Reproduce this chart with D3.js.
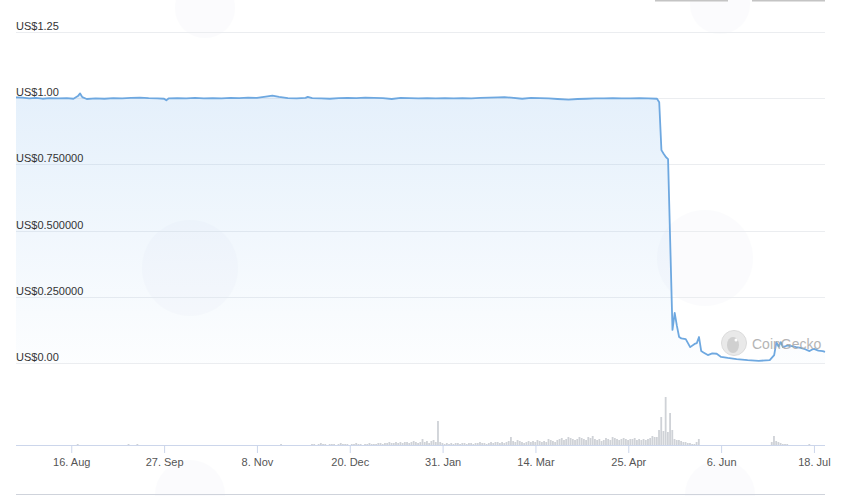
<!DOCTYPE html>
<html>
<head>
<meta charset="utf-8">
<script src="https://cdn.jsdelivr.net/npm/d3@7/dist/d3.min.js"></script>
<style>
html,body{margin:0;padding:0;background:#fff;}
svg{display:block;font-family:"Liberation Sans",Arial,sans-serif;}
</style>
</head>
<body>
<svg id="chart" width="849" height="496"></svg>
<script>
// ---------------- DATA ----------------
const priceDates = [
"2021-07-22","2021-07-25","2021-07-28","2021-07-31","2021-08-03","2021-08-06","2021-08-10","2021-08-14","2021-08-17","2021-08-19",
"2021-08-20","2021-08-21","2021-08-23","2021-08-27","2021-08-31","2021-09-04","2021-09-08","2021-09-12","2021-09-16","2021-09-20",
"2021-09-24","2021-09-27","2021-09-28","2021-09-29","2021-10-03","2021-10-07","2021-10-11","2021-10-15","2021-10-19","2021-10-23",
"2021-10-27","2021-10-31","2021-11-04","2021-11-08","2021-11-12","2021-11-15","2021-11-18","2021-11-22","2021-11-26","2021-11-30",
"2021-12-01","2021-12-03","2021-12-07","2021-12-11","2021-12-15","2021-12-19","2021-12-23","2021-12-27","2021-12-31","2022-01-04",
"2022-01-08","2022-01-12","2022-01-16","2022-01-20","2022-01-24","2022-01-28","2022-02-01","2022-02-05","2022-02-09","2022-02-13",
"2022-02-17","2022-02-21","2022-02-25","2022-02-28","2022-03-03","2022-03-08","2022-03-12","2022-03-16","2022-03-20","2022-03-24",
"2022-03-29","2022-04-02","2022-04-06","2022-04-10","2022-04-14","2022-04-18","2022-04-22","2022-04-26","2022-04-30","2022-05-04",
"2022-05-08","2022-05-09","2022-05-10","2022-05-11","2022-05-12","2022-05-13","2022-05-15","2022-05-16","2022-05-17","2022-05-18",
"2022-05-19","2022-05-21","2022-05-23","2022-05-25","2022-05-26","2022-05-27","2022-05-28","2022-05-29","2022-05-31","2022-06-02",
"2022-06-04","2022-06-06","2022-06-09","2022-06-13","2022-06-18","2022-06-23","2022-06-28","2022-06-30","2022-07-01","2022-07-02",
"2022-07-03","2022-07-04","2022-07-06","2022-07-08","2022-07-10","2022-07-12","2022-07-14","2022-07-16","2022-07-17","2022-07-18",
"2022-07-20","2022-07-22","2022-07-23"
];
const priceValues = [
1.003,1.002,0.999,1.001,0.998,1.000,0.999,1.000,0.998,1.008,
1.018,1.004,0.997,0.999,0.998,1.000,0.999,1.001,1.002,1.000,
0.999,0.998,0.992,0.999,1.000,0.999,1.001,0.999,1.000,0.999,
1.001,1.000,1.002,1.001,1.006,1.010,1.005,1.000,0.999,1.001,
1.005,1.000,0.999,0.998,1.000,1.001,1.000,1.002,1.001,1.000,
0.997,1.001,1.000,0.999,1.000,0.999,1.000,0.999,1.000,0.999,
1.001,1.002,1.003,1.004,1.002,0.998,1.001,1.000,0.999,0.997,
0.995,0.997,0.998,0.999,0.999,1.000,0.999,0.999,1.000,0.999,
0.998,0.985,0.804,0.790,0.778,0.770,0.125,0.189,0.140,0.098,
0.093,0.090,0.060,0.072,0.075,0.098,0.045,0.040,0.030,0.036,
0.035,0.023,0.019,0.015,0.011,0.008,0.011,0.030,0.079,0.062,
0.079,0.060,0.066,0.064,0.060,0.057,0.052,0.045,0.050,0.053,
0.047,0.045,0.042
];

// daily volume (relative units) from 2021-12-01
const volumeStart = "2021-12-01";
const volumeDaily = [
// Dec
0,0,1,1,0,1,2,1,1,0,1,1,1,0,1,2,1,1,1,0,1,1,2,1,1,0,1,1,2,1,1,
// Jan
1,2,2,1,2,2,3,2,2,3,2,3,2,3,3,2,3,4,3,2,3,6,3,4,2,4,5,3,24,3,2,
// Feb
1,2,1,2,1,2,2,1,2,2,1,2,2,1,2,2,3,2,2,1,2,3,2,3,3,2,3,2,
// Mar
3,4,8,4,3,5,4,3,2,3,4,3,4,3,5,4,3,4,3,6,5,4,3,5,6,7,5,6,8,7,6,
// Apr
5,6,8,7,6,5,8,7,9,6,5,6,4,5,7,6,5,8,7,6,5,6,7,6,5,6,6,7,5,6,
// May
5,6,5,6,7,9,8,8,15,28,14,48,13,32,15,6,5,5,4,3,3,2,2,1,1,3,6,0,0,0,0,
// Jun
0,0,0,0,0,0,0,0,0,0,0,0,0,0,0,0,0,0,0,0,0,0,0,0,0,0,0,0,3,9,
// Jul
4,3,2,1,1,1,0,0,0,0,0,0,0,0,0,1,0,0,0,0,0,0,0
];
// sparse earlier volume
const volumeEarlyDates = ["2021-08-19","2021-09-11","2021-09-15","2021-11-19"];
const volumeEarlyValues = [1,1,1,1];

const yTicks = [0, 0.25, 0.5, 0.75, 1.0, 1.25];
const yTickLabels = ["US$0.00","US$0.250000","US$0.500000","US$0.750000","US$1.00","US$1.25"];
const xTickDates = ["2021-08-16","2021-09-27","2021-11-08","2021-12-20","2022-01-31","2022-03-14","2022-04-25","2022-06-06","2022-07-18"];
const xTickLabels = ["16. Aug","27. Sep","8. Nov","20. Dec","31. Jan","14. Mar","25. Apr","6. Jun","18. Jul"];

// ---------------- CHART ----------------
const parse = d3.utcParse("%Y-%m-%d");
const svg = d3.select("#chart");

const x = d3.scaleUtc()
  .domain([parse("2021-07-22"), parse("2022-07-23")])
  .range([16, 825]);
const y = d3.scaleLinear().domain([0, 1.25]).range([363, 32]);
const yv = d3.scaleLinear().domain([0, 50]).range([445, 395]);

const priceData = priceDates.map((d, i) => ({date: parse(d), v: priceValues[i]}));
const vol = [];
const vs = parse(volumeStart);
volumeDaily.forEach((v, i) => { vol.push({date: d3.utcDay.offset(vs, i), v}); });
volumeEarlyDates.forEach((d, i) => vol.push({date: parse(d), v: volumeEarlyValues[i]}));

const defs = svg.append("defs");
const grad = defs.append("linearGradient").attr("id", "areaGrad")
  .attr("gradientUnits", "userSpaceOnUse")
  .attr("x1", 0).attr("y1", y(1.0)).attr("x2", 0).attr("y2", y(0));
grad.append("stop").attr("offset", "0%").attr("stop-color", "#7cb5ec").attr("stop-opacity", 0.2);
grad.append("stop").attr("offset", "100%").attr("stop-color", "#7cb5ec").attr("stop-opacity", 0.02);

// very faint background watermark shapes
const wm = svg.append("g").attr("fill", "#eef1f7").attr("opacity", 0.22);
wm.append("circle").attr("cx", 190).attr("cy", 268).attr("r", 48);
wm.append("circle").attr("cx", 705).attr("cy", 258).attr("r", 48);
wm.append("circle").attr("cx", 205).attr("cy", 8).attr("r", 30);
wm.append("circle").attr("cx", 720).attr("cy", 4).attr("r", 30);
wm.append("circle").attr("cx", 190).attr("cy", 495).attr("r", 35);
wm.append("circle").attr("cx", 720).attr("cy", 495).attr("r", 35);

// grid lines
svg.append("g").selectAll("line").data(yTicks).join("line")
  .attr("x1", 16).attr("x2", 825)
  .attr("y1", d => Math.round(y(d)) + 0.5).attr("y2", d => Math.round(y(d)) + 0.5)
  .attr("stroke", "#ebedf0").attr("stroke-width", 1);

// area + line
const area = d3.area().x(d => x(d.date)).y0(y(0)).y1(d => y(d.v));
svg.append("path").datum(priceData).attr("d", area).attr("fill", "url(#areaGrad)");
const line = d3.line().x(d => x(d.date)).y(d => y(d.v));
svg.append("path").datum(priceData).attr("d", line)
  .attr("fill", "none").attr("stroke", "#6ea8e0").attr("stroke-width", 1.8)
  .attr("stroke-linejoin", "round");

// y labels
svg.append("g").selectAll("text").data(yTicks).join("text")
  .attr("x", 16).attr("y", d => Math.round(y(d)) - 2)
  .attr("font-size", 11).attr("fill", "#333")
  .text((d, i) => yTickLabels[i]);

// volume bars
const dayW = x(parse("2021-07-23")) - x(parse("2021-07-22"));
svg.append("g").selectAll("rect").data(vol.filter(d => d.v > 0)).join("rect")
  .attr("x", d => x(d.date) - dayW / 2)
  .attr("width", dayW - 0.4)
  .attr("y", d => yv(d.v))
  .attr("height", d => yv(0) - yv(d.v))
  .attr("fill", "#cfd2d7");

// x axis
const xAxis = d3.axisBottom(x)
  .tickValues(xTickDates.map(parse))
  .tickFormat((d, i) => xTickLabels[i])
  .tickSize(8).tickSizeOuter(0);
const gx = svg.append("g").attr("transform", "translate(0,445)").call(xAxis);
gx.select(".domain").attr("stroke", "#ccd6eb").attr("d", "M16,0.5H825");
gx.selectAll(".tick line").attr("stroke", "#ccd6eb");
gx.selectAll(".tick text").attr("font-size", 11).attr("fill", "#555")
  .attr("font-family", "Liberation Sans, Arial, sans-serif").attr("dy", "0.9em");

// navigator line at bottom
svg.append("line").attr("x1", 16).attr("x2", 825).attr("y1", 494.5).attr("y2", 494.5)
  .attr("stroke", "#cfd3db").attr("stroke-width", 1);

// top buttons (cut off)
svg.append("rect").attr("x", 655).attr("y", 0).attr("width", 73).attr("height", 1.5).attr("fill", "#c4c4c4");
svg.append("rect").attr("x", 752).attr("y", 0).attr("width", 73).attr("height", 1.5).attr("fill", "#c4c4c4");

// CoinGecko watermark
const cg = svg.append("g").attr("opacity", 0.85);
cg.append("circle").attr("cx", 734).attr("cy", 343).attr("r", 12.5)
  .attr("fill", "#e6e6e6").attr("stroke", "#d6d6d6").attr("stroke-width", 1);
cg.append("ellipse").attr("cx", 733).attr("cy", 345).attr("rx", 6).attr("ry", 8).attr("fill", "#c8c8c8");
cg.append("circle").attr("cx", 736).attr("cy", 340).attr("r", 1.5).attr("fill", "#fff");
cg.append("text").attr("x", 752).attr("y", 348.5).attr("font-size", 14)
  .attr("fill", "#a8a8a8").attr("font-family", "Liberation Sans, Arial, sans-serif").text("CoinGecko");
</script>
</body>
</html>
